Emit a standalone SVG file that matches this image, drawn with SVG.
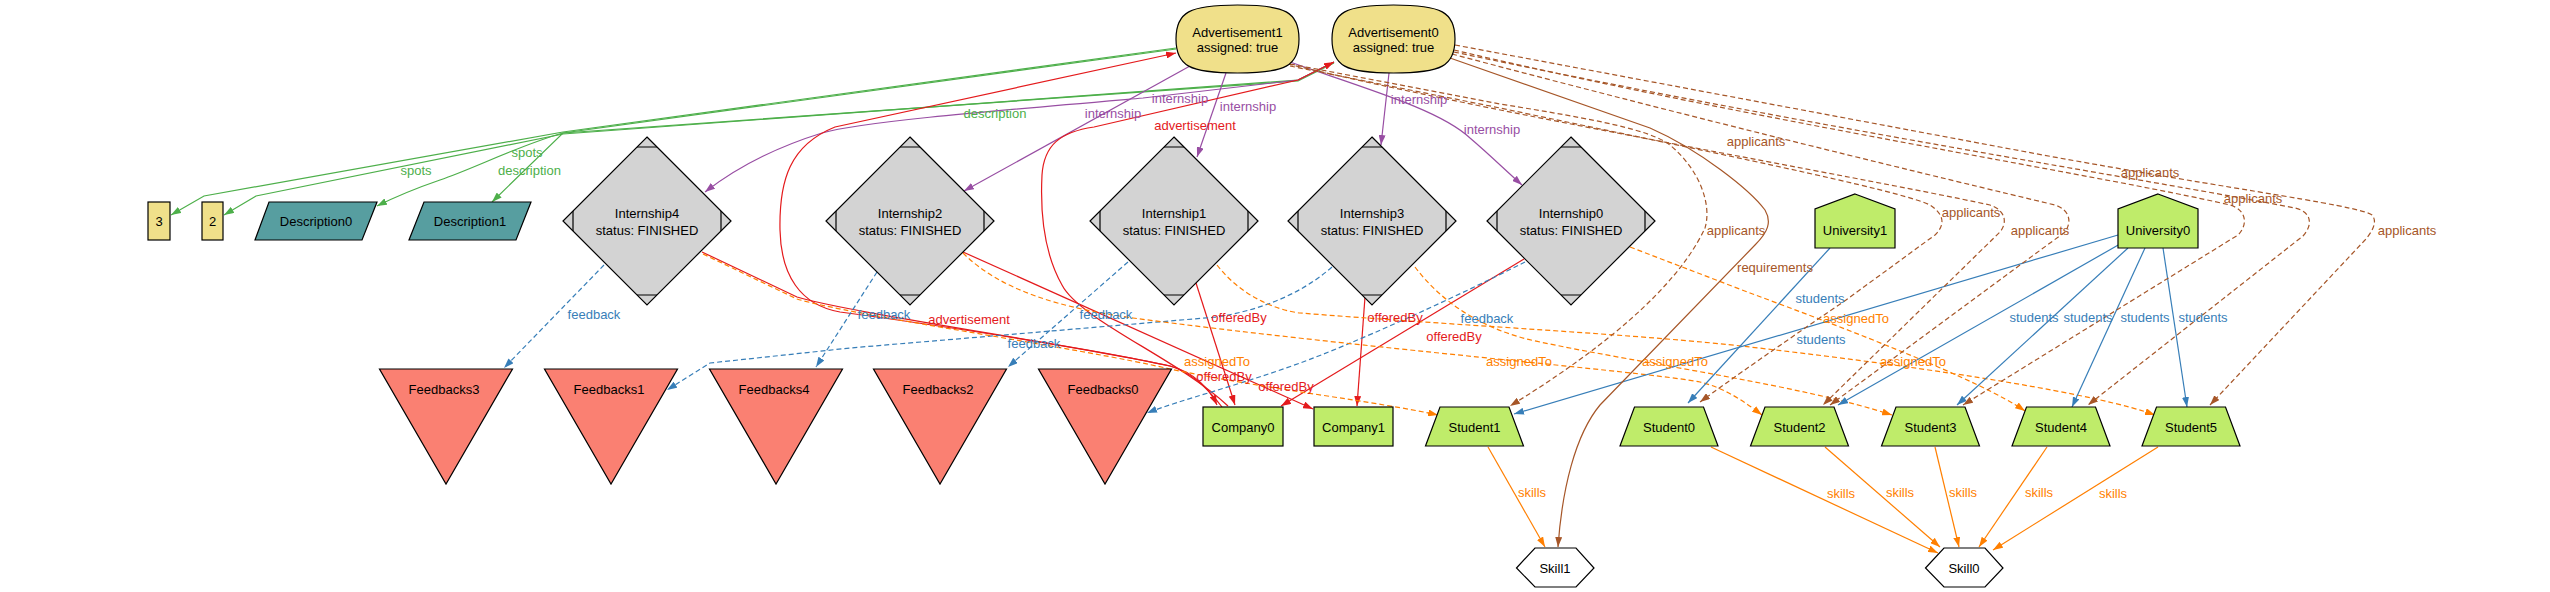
<svg xmlns="http://www.w3.org/2000/svg" xmlns:xlink="http://www.w3.org/1999/xlink" width="2550" height="592" viewBox="0 0 2550 592">
<style>
.e{fill:none;stroke-width:1.2}
.d{stroke-dasharray:5,3}
.g{stroke:#4daf4a}.r{stroke:#e41a1c}.b{stroke:#377eb8}.p{stroke:#984ea3}.o{stroke:#ff7f00}.w{stroke:#a65628}
.mg{marker-end:url(#aG)}.mr{marker-end:url(#aR)}.mb{marker-end:url(#aB)}.mp{marker-end:url(#aP)}.mo{marker-end:url(#aO)}.mw{marker-end:url(#aW)}
.n{font-family:"Liberation Sans",Arial,sans-serif;font-size:13px;text-anchor:middle;fill:#000}
.l{font-family:"Liberation Sans",Arial,sans-serif;font-size:13px;text-anchor:middle}
.lg{fill:#4daf4a}.lr{fill:#e41a1c}.lb{fill:#377eb8}.lp{fill:#984ea3}.lo{fill:#ff7f00}.lw{fill:#a65628}
.s{stroke:#000;stroke-width:1.2}
.kh{fill:#f0e08a}.gr{fill:#d3d3d3}.sa{fill:#fa8072}.lg2{fill:#bfec6a}.cb{fill:#579ea0}.wh{fill:#fff}
</style>
<defs>
<marker id="aG" viewBox="0 0 10 7" refX="10" refY="3.5" markerWidth="10" markerHeight="7" markerUnits="userSpaceOnUse" orient="auto"><path d="M0,0L10,3.5L0,7z" fill="#4daf4a"/></marker>
<marker id="aR" viewBox="0 0 10 7" refX="10" refY="3.5" markerWidth="10" markerHeight="7" markerUnits="userSpaceOnUse" orient="auto"><path d="M0,0L10,3.5L0,7z" fill="#e41a1c"/></marker>
<marker id="aB" viewBox="0 0 10 7" refX="10" refY="3.5" markerWidth="10" markerHeight="7" markerUnits="userSpaceOnUse" orient="auto"><path d="M0,0L10,3.5L0,7z" fill="#377eb8"/></marker>
<marker id="aP" viewBox="0 0 10 7" refX="10" refY="3.5" markerWidth="10" markerHeight="7" markerUnits="userSpaceOnUse" orient="auto"><path d="M0,0L10,3.5L0,7z" fill="#984ea3"/></marker>
<marker id="aO" viewBox="0 0 10 7" refX="10" refY="3.5" markerWidth="10" markerHeight="7" markerUnits="userSpaceOnUse" orient="auto"><path d="M0,0L10,3.5L0,7z" fill="#ff7f00"/></marker>
<marker id="aW" viewBox="0 0 10 7" refX="10" refY="3.5" markerWidth="10" markerHeight="7" markerUnits="userSpaceOnUse" orient="auto"><path d="M0,0L10,3.5L0,7z" fill="#a65628"/></marker>
<g id="mdia">
<polygon points="0,-84 84,0 0,84 -84,0" class="s gr"/>
<path d="M-10,-74H10M-10,74H10M-74,-10V10M74,-10V10" class="s" fill="none"/>
</g>
<polygon id="tri" points="-66.5,0 66.5,0 0,115" class="s sa"/>
<polygon id="trap" points="-34.5,0 34.5,0 49,39 -49,39" class="s lg2"/>
<polygon id="house" points="0,0 40,15 40,54 -40,54 -40,15" class="s lg2"/>
<polygon id="hex" points="-38.5,20 -20,0 21,0 39,20 21,39 -20,39" class="s wh"/>
<path id="adv" d="M-61.5,0 C-61.5,-27 -48,-34 0,-34 C48,-34 61.5,-27 61.5,0 C61.5,27 48,34 0,34 C-48,34 -61.5,27 -61.5,0 Z" class="s kh"/>
</defs>
<rect width="2550" height="592" fill="#fff"/>

<g id="connectors">
<!-- green spots / description -->
<path class="e g mg" d="M1176,48 L563,132 L204,196 L171,215"/>
<path class="e g mg" d="M1334,62 L1298,80 L563,134 L256,196 L224,215"/>
<path class="e g mg" d="M1176,49 L563,133 L492,202"/>
<path class="e g mg" d="M1334,63 L1298,81 L563,133 C520,145 475,168 440,180 Q405,192 377,206"/>
<!-- purple internship -->
<path class="e p mp" d="M1334,62 L1298,80 L1143,98 C980,112 860,122 822,133 C780,146 740,165 705,192"/>
<path class="e p mp" d="M1190,66 L964,191"/>
<path class="e p mp" d="M1226,73 L1197,157"/>
<path class="e p mp" d="M1389,73 L1381,145"/>
<path class="e p mp" d="M1290,62 C1370,90 1440,110 1470,138 C1490,155 1505,170 1522,185"/>
<!-- red advertisement / offeredBy -->
<path class="e r mr" d="M1222,407 C1205,385 1190,372 1170,366 C1080,346 900,320 840,312 C800,305 781,275 780,230 C779,180 790,145 835,127 L1176,53"/>
<path class="e r mr" d="M702,252 L797,297 C850,313 1080,346 1170,366 C1195,372 1210,390 1217,405"/>
<path class="e r mr" d="M1228,406 C1180,360 1080,320 1062,285 C1045,255 1040,215 1042,175 C1044,145 1060,132 1094,127 L1298,80 L1334,62"/>
<path class="e r mr" d="M963,252 L1313,409"/>
<path class="e r mr" d="M1196,283 L1235,405"/>
<path class="e r mr" d="M1365,297 L1357,406"/>
<path class="e r mr" d="M1524,259 L1281,406"/>
<!-- blue feedback -->
<path class="e b d mb" d="M604,265 L504,368"/>
<path class="e b d mb" d="M877,272 L816,367"/>
<path class="e b d mb" d="M1128,262 L1008,367"/>
<path class="e b d mb" d="M1332,267 C1300,295 1260,310 1217,317 L850,348 L710,363 L667,390"/>
<path class="e b d mb" d="M1525,262 C1450,300 1350,345 1300,363 C1240,385 1180,400 1147,413"/>
<!-- orange assignedTo -->
<path class="e o d mo" d="M703,254 L797,299 C850,315 1080,348 1170,369 C1260,388 1380,402 1438,415"/>
<path class="e o d mo" d="M963,253 C1000,290 1060,308 1133,318 C1350,347 1650,372 1700,382 C1725,388 1745,402 1762,415"/>
<path class="e o d mo" d="M1217,265 C1240,295 1275,310 1300,313 C1450,325 1650,335 1750,347 C1950,370 2100,395 2155,415"/>
<path class="e o d mo" d="M1415,267 C1440,300 1480,330 1540,342 C1650,365 1800,385 1892,415"/>
<path class="e o d mo" d="M1630,247 L1750,293 C1850,330 1980,380 2025,411"/>
<!-- blue students -->
<path class="e b mb" d="M1830,248 L1688,403"/>
<path class="e b mb" d="M2118,235 L1514,414"/>
<path class="e b mb" d="M2120,244 L1838,405"/>
<path class="e b mb" d="M2128,248 L1957,405"/>
<path class="e b mb" d="M2145,248 L2072,407"/>
<path class="e b mb" d="M2163,248 L2187,407"/>
<!-- orange skills -->
<path class="e o mo" d="M1488,447 L1545,547"/>
<path class="e o mo" d="M1711,447 L1938,553"/>
<path class="e o mo" d="M1825,447 L1940,547"/>
<path class="e o mo" d="M1935,447 L1959,547"/>
<path class="e o mo" d="M2047,447 L1979,547"/>
<path class="e o mo" d="M2158,447 L1993,550"/>
<!-- brown requirements -->
<path class="e w mw" d="M1450,58 L1650,128 C1700,150 1750,190 1765,210 C1772,222 1768,232 1755,245 L1600,405 C1575,435 1562,490 1558,547"/>
<!-- brown applicants -->
<path class="e w d mw" d="M1290,64 L1500,104 C1600,120 1650,130 1670,145 C1700,170 1712,205 1705,228 C1690,260 1650,320 1510,406"/>
<path class="e w d mw" d="M1290,66 L1500,108 C1700,150 1900,190 1930,205 C1945,215 1945,225 1935,235 L1846,300 C1780,345 1730,380 1700,402"/>
<path class="e w d mw" d="M1288,64 C1500,115 1850,175 1990,205 C2005,210 2008,222 2000,232 L1823,405"/>
<path class="e w d mw" d="M1452,54 C1700,120 1950,180 2055,205 C2070,210 2072,222 2065,232 L1830,405"/>
<path class="e w d mw" d="M1454,50 C1750,120 2100,175 2230,205 C2247,210 2248,225 2238,235 L1963,405"/>
<path class="e w d mw" d="M1454,52 C1800,125 2150,180 2295,208 C2312,212 2313,225 2303,236 L2088,405"/>
<path class="e w d mw" d="M1455,45 L2000,147 C2200,185 2360,205 2372,215 C2378,222 2372,232 2365,240 L2210,405"/>
</g>

<g id="edge-labels">
<text class="l lg" x="416" y="174.5">spots</text>
<text class="l lg" x="527" y="156.5">spots</text>
<text class="l lg" x="529.5" y="174.5">description</text>
<text class="l lg" x="995" y="117.5">description</text>
<text class="l lp" x="1180" y="102.5">internship</text>
<text class="l lp" x="1113" y="117.5">internship</text>
<text class="l lp" x="1248" y="110.5">internship</text>
<text class="l lp" x="1419" y="103.5">internship</text>
<text class="l lp" x="1492" y="133.5">internship</text>
<text class="l lr" x="1195" y="129.5">advertisement</text>
<text class="l lr" x="969" y="323.5">advertisement</text>
<text class="l lr" x="1239" y="321.5">offeredBy</text>
<text class="l lr" x="1395" y="321.5">offeredBy</text>
<text class="l lr" x="1454" y="340.5">offeredBy</text>
<text class="l lr" x="1224" y="380.5">offeredBy</text>
<text class="l lr" x="1286" y="390.5">offeredBy</text>
<text class="l lb" x="594" y="318.5">feedback</text>
<text class="l lb" x="884" y="318.5">feedback</text>
<text class="l lb" x="1106" y="318.5">feedback</text>
<text class="l lb" x="1034" y="347.5">feedback</text>
<text class="l lb" x="1487" y="322.5">feedback</text>
<text class="l lo" x="1217" y="365.5">assignedTo</text>
<text class="l lo" x="1519" y="365.5">assignedTo</text>
<text class="l lo" x="1675" y="365.5">assignedTo</text>
<text class="l lo" x="1856" y="322.5">assignedTo</text>
<text class="l lo" x="1913" y="365.5">assignedTo</text>
<text class="l lb" x="1820" y="302.5">students</text>
<text class="l lb" x="1821" y="343.5">students</text>
<text class="l lb" x="2034" y="321.5">students</text>
<text class="l lb" x="2088" y="321.5">students</text>
<text class="l lb" x="2145" y="321.5">students</text>
<text class="l lb" x="2203" y="321.5">students</text>
<text class="l lo" x="1532" y="496.5">skills</text>
<text class="l lo" x="1841" y="497.5">skills</text>
<text class="l lo" x="1900" y="496.5">skills</text>
<text class="l lo" x="1963" y="496.5">skills</text>
<text class="l lo" x="2039" y="496.5">skills</text>
<text class="l lo" x="2113" y="497.5">skills</text>
<text class="l lw" x="1756" y="145.5">applicants</text>
<text class="l lw" x="2150" y="176.5">applicants</text>
<text class="l lw" x="2253" y="202.5">applicants</text>
<text class="l lw" x="1971" y="216.5">applicants</text>
<text class="l lw" x="1736" y="234.5">applicants</text>
<text class="l lw" x="2040" y="234.5">applicants</text>
<text class="l lw" x="2407" y="234.5">applicants</text>
<text class="l lw" x="1775" y="271.5">requirements</text>
</g>

<g id="Advertisement1"><use href="#adv" x="1237.5" y="39"/><text class="n" x="1237.5" y="37">Advertisement1</text><text class="n" x="1237.5" y="52">assigned: true</text></g>
<g id="Advertisement0"><use href="#adv" x="1393.5" y="39"/><text class="n" x="1393.5" y="37">Advertisement0</text><text class="n" x="1393.5" y="52">assigned: true</text></g>
<g id="Int3"><rect x="148" y="202" width="22" height="38" class="s kh"/><text class="n" x="159" y="226">3</text></g>
<g id="Int2"><rect x="202" y="202" width="21" height="38" class="s kh"/><text class="n" x="212.5" y="226">2</text></g>
<g id="Description0"><polygon points="269,202 377,202 362,240 255,240" class="s cb"/><text class="n" x="316" y="226">Description0</text></g>
<g id="Description1"><polygon points="424,202 531,202 516,240 409,240" class="s cb"/><text class="n" x="470" y="226">Description1</text></g>
<g id="Internship4"><use href="#mdia" x="647" y="221"/><text class="n" x="647" y="218">Internship4</text><text class="n" x="647" y="235">status: FINISHED</text></g>
<g id="Internship2"><use href="#mdia" x="910" y="221"/><text class="n" x="910" y="218">Internship2</text><text class="n" x="910" y="235">status: FINISHED</text></g>
<g id="Internship1"><use href="#mdia" x="1174" y="221"/><text class="n" x="1174" y="218">Internship1</text><text class="n" x="1174" y="235">status: FINISHED</text></g>
<g id="Internship3"><use href="#mdia" x="1372" y="221"/><text class="n" x="1372" y="218">Internship3</text><text class="n" x="1372" y="235">status: FINISHED</text></g>
<g id="Internship0"><use href="#mdia" x="1571" y="221"/><text class="n" x="1571" y="218">Internship0</text><text class="n" x="1571" y="235">status: FINISHED</text></g>
<g id="Feedbacks3"><use href="#tri" x="446" y="369"/><text class="n" x="444" y="394">Feedbacks3</text></g>
<g id="Feedbacks1"><use href="#tri" x="611" y="369"/><text class="n" x="609" y="394">Feedbacks1</text></g>
<g id="Feedbacks4"><use href="#tri" x="776" y="369"/><text class="n" x="774" y="394">Feedbacks4</text></g>
<g id="Feedbacks2"><use href="#tri" x="940" y="369"/><text class="n" x="938" y="394">Feedbacks2</text></g>
<g id="Feedbacks0"><use href="#tri" x="1105" y="369"/><text class="n" x="1103" y="394">Feedbacks0</text></g>
<g id="Company0"><rect x="1203" y="407" width="80" height="39" class="s lg2"/><text class="n" x="1243" y="432">Company0</text></g>
<g id="Company1"><rect x="1314" y="407" width="79" height="39" class="s lg2"/><text class="n" x="1353.5" y="432">Company1</text></g>
<g id="Student1"><use href="#trap" x="1474.5" y="407"/><text class="n" x="1474.5" y="432">Student1</text></g>
<g id="Student0"><use href="#trap" x="1669" y="407"/><text class="n" x="1669" y="432">Student0</text></g>
<g id="Student2"><use href="#trap" x="1799.5" y="407"/><text class="n" x="1799.5" y="432">Student2</text></g>
<g id="Student3"><use href="#trap" x="1930.5" y="407"/><text class="n" x="1930.5" y="432">Student3</text></g>
<g id="Student4"><use href="#trap" x="2061" y="407"/><text class="n" x="2061" y="432">Student4</text></g>
<g id="Student5"><use href="#trap" x="2191" y="407"/><text class="n" x="2191" y="432">Student5</text></g>
<g id="University1"><use href="#house" x="1855" y="194"/><text class="n" x="1855" y="235">University1</text></g>
<g id="University0"><use href="#house" x="2158" y="194"/><text class="n" x="2158" y="235">University0</text></g>
<g id="Skill1"><use href="#hex" x="1555" y="548"/><text class="n" x="1555" y="573">Skill1</text></g>
<g id="Skill0"><use href="#hex" x="1964" y="548"/><text class="n" x="1964" y="573">Skill0</text></g>
</svg>
